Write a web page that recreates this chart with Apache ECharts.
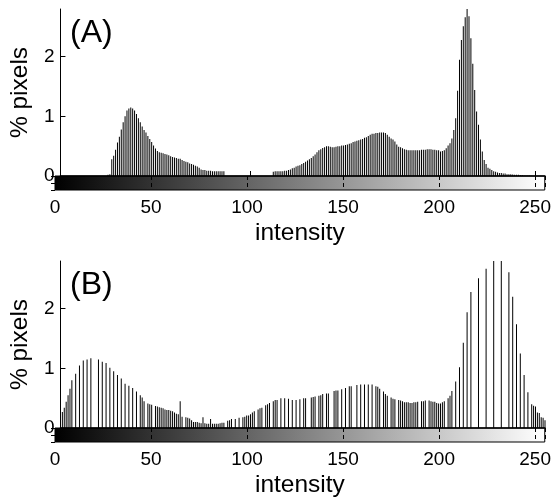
<!DOCTYPE html>
<html><head><meta charset="utf-8">
<script src="https://cdn.jsdelivr.net/npm/echarts@6/dist/echarts.min.js"></script>
<style>html,body{margin:0;padding:0;background:#fff}#c{width:554px;height:499px}</style>
</head><body><div id="c"></div>
<script>
// ---- data ----
const intensityA = [
  25,26,27,28,29,30,31,32,33,34,35,36,37,38,39,40,41,42,43,44,45,46,47,48,49,50,
  51,52,53,54,55,56,57,58,59,60,61,62,63,64,65,66,67,68,69,70,71,72,73,74,75,76,
  77,78,79,80,81,82,83,84,85,86,
  112,113,114,115,116,117,118,119,120,121,122,123,124,125,126,127,128,129,130,131,
  132,133,134,135,136,137,138,139,140,141,142,143,144,145,146,147,148,149,150,151,
  152,153,154,155,156,157,158,159,160,161,162,163,164,165,166,167,168,169,170,171,
  172,173,174,175,176,177,178,179,180,181,182,183,184,185,186,187,188,189,190,191,
  192,193,194,195,196,197,198,199,200,201,202,203,204,205,206,207,208,209,210,211,
  212,213,214,215,216,217,218,219,220,221,222,223,224,225,226,227,228,229,230,231,
  232,233,234,235,236,237,238,239,240,241,242,243,244,245,246,247,248
];
const percentA = [
  0.02,0.03,0.28,0.34,0.44,0.56,0.66,0.78,0.90,1.00,1.10,1.13,1.15,1.13,1.10,1.04,0.97,0.90,0.83,0.77,0.73,0.67,0.62,0.57,0.51,0.46,
  0.42,0.40,0.39,0.38,0.37,0.36,0.35,0.33,0.32,0.31,0.30,0.29,0.29,0.27,0.25,0.24,0.23,0.21,0.20,0.19,0.17,0.16,0.14,0.11,0.10,0.10,
  0.09,0.09,0.09,0.08,0.08,0.08,0.08,0.08,0.08,0.08,
  0.07,0.08,0.08,0.08,0.08,0.08,0.09,0.09,0.10,0.11,0.13,0.14,0.16,0.17,0.18,0.20,0.22,0.24,0.26,0.28,
  0.30,0.33,0.36,0.40,0.43,0.45,0.47,0.48,0.50,0.50,0.49,0.48,0.48,0.49,0.50,0.50,0.51,0.51,0.52,0.53,
  0.54,0.55,0.57,0.58,0.59,0.60,0.61,0.62,0.64,0.65,0.67,0.69,0.71,0.71,0.72,0.72,0.73,0.73,0.73,0.72,
  0.69,0.66,0.63,0.61,0.58,0.53,0.49,0.48,0.465,0.45,0.44,0.43,0.43,0.43,0.43,0.43,0.43,0.43,0.44,0.44,
  0.44,0.45,0.45,0.45,0.44,0.44,0.43,0.43,0.41,0.42,0.43,0.465,0.51,0.55,0.63,0.77,0.97,1.43,1.95,2.28,
  2.51,2.66,2.90,2.68,2.31,1.88,1.44,1.08,0.86,0.61,0.41,0.27,0.20,0.14,0.12,0.10,0.08,0.07,0.06,0.05,
  0.05,0.04,0.04,0.03,0.03,0.03,0.025,0.02,0.02,0.02,0.015,0.015,0.01,0.01,0.01,0.01,0.005
];
const intensityB = [
  1,2,3,4,5,6,8,10,12,14,16,20,22,24,26,28,30,32,34,36,38,40,42,43,44,46,47,48,50,51,
  52,53,54,55,56,57,58,59,60,61,62,63,64,66,67,68,69,70,71,72,73,74,75,76,77,78,79,80,
  81,82,83,84,85,86,88,89,90,92,94,96,97,98,99,100,101,102,104,105,106,108,109,110,112,113,
  114,116,118,120,122,124,126,128,129,132,133,134,136,137,138,140,141,144,145,146,148,150,152,153,
  156,158,160,162,164,166,167,168,170,171,172,174,175,176,178,179,180,181,182,183,184,185,186,187,
  188,190,191,192,194,195,196,197,198,199,200,201,202,204,205,206,208,210,212,214,216,220,224,228,
  232,236,238,240,242,244,246,248,249,250,251,252,253,254,255
];
const percentB = [
  0.27,0.34,0.44,0.55,0.66,0.80,0.91,1.05,1.13,1.15,1.17,1.15,1.11,1.09,1.01,0.95,0.89,0.83,0.74,0.71,0.67,0.61,0.55,0.51,0.45,0.41,0.40,0.39,0.37,0.36,
  0.35,0.34,0.33,0.31,0.30,0.30,0.29,0.28,0.26,0.24,0.23,0.45,0.19,0.18,0.17,0.16,0.13,0.10,0.10,0.10,0.09,0.08,0.18,0.08,0.07,0.07,0.15,0.07,
  0.07,0.07,0.07,0.08,0.09,0.09,0.12,0.13,0.15,0.15,0.17,0.18,0.19,0.21,0.21,0.23,0.26,0.28,0.31,0.33,0.34,0.38,0.40,0.42,0.45,0.47,
  0.47,0.50,0.50,0.49,0.47,0.47,0.48,0.50,0.50,0.51,0.52,0.53,0.54,0.55,0.57,0.58,0.58,0.62,0.63,0.63,0.65,0.67,0.70,0.70,
  0.72,0.73,0.73,0.73,0.73,0.70,0.69,0.66,0.61,0.57,0.54,0.51,0.49,0.48,0.47,0.46,0.45,0.43,0.43,0.43,0.42,0.42,0.43,0.43,
  0.44,0.45,0.45,0.46,0.46,0.45,0.44,0.44,0.42,0.41,0.41,0.43,0.45,0.50,0.54,0.62,0.78,1.02,1.43,1.94,2.28,2.51,2.67,2.95,
  2.95,2.61,2.20,1.74,1.25,0.89,0.60,0.40,0.375,0.36,0.26,0.25,0.18,0.17,0.13
];
const xTicks = [0, 50, 100, 150, 200, 250];
const yTicks = [0, 1, 2];
const xRange = [0, 255];
const yRange = [0, 2.8];
const panelLabels = ['(A)', '(B)'];
const xName = 'intensity';
const yName = '% pixels';

// ---- layout ----
const FONT = '"Liberation Sans", Arial, Helvetica, sans-serif';
const panels = [
  { top: 9, height: 167 },
  { top: 261, height: 167 }
];
const CB_H = 14;
const LEFT = 55, WIDTH = 490;

const grids = [], xAxes = [], yAxes = [], series = [], titles = [];
const datasets = [[intensityA, percentA], [intensityB, percentB]];

panels.forEach((p, k) => {
  const gMain = grids.length;
  grids.push({ left: LEFT, top: p.top, width: WIDTH, height: p.height, z: 3 });
  grids.push({ left: LEFT, top: p.top + p.height, width: WIDTH, height: CB_H,
    show: true, borderColor: '#000', borderWidth: 1, backgroundColor: 'transparent', z: 3 });
  // main axes
  xAxes.push({ type: 'value', gridIndex: gMain, min: xRange[0], max: xRange[1], interval: 50,
    axisLine: { show: true, lineStyle: { color: '#000', width: 1.5 } },
    axisTick: { show: true, inside: true, length: 5, customValues: xTicks, lineStyle: { color: '#000' } },
    axisLabel: { show: false }, splitLine: { show: false }, z: 3 });
  yAxes.push({ type: 'value', gridIndex: gMain, min: yRange[0], max: yRange[1], interval: 1,
    axisLine: { show: true, lineStyle: { color: '#000', width: 1 } },
    axisTick: { show: true, inside: true, length: 5, customValues: yTicks, lineStyle: { color: '#000' } },
    axisLabel: { show: true, customValues: yTicks, color: '#000', fontSize: 19, fontFamily: FONT, margin: 6 },
    splitLine: { show: false },
    name: yName, nameLocation: 'middle', nameGap: 18,
    nameTextStyle: { color: '#000', fontSize: 24.5, fontFamily: FONT }, z: 3 });
  // colorbar axes
  xAxes.push({ type: 'value', gridIndex: gMain + 1, min: xRange[0], max: xRange[1], interval: 50,
    axisLine: { show: false }, axisTick: { show: false },
    axisLabel: { show: true, customValues: xTicks, color: '#000', fontSize: 19, fontFamily: FONT, margin: 8 },
    splitLine: { show: true, lineStyle: { color: '#000', width: 1, type: [4, 3] } },
    name: xName, nameLocation: 'middle', nameGap: 31,
    nameTextStyle: { color: '#000', fontSize: 24.5, fontFamily: FONT }, z: 4 });
  yAxes.push({ type: 'value', gridIndex: gMain + 1, min: 0, max: 1, interval: 0.5, position: 'right',
    axisLine: { show: false },
    axisTick: { show: true, inside: true, length: 4, lineStyle: { color: '#000' } },
    axisLabel: { show: false }, splitLine: { show: false }, z: 4 });

  const [xs, ys] = datasets[k];
  series.push({ type: 'bar', xAxisIndex: gMain, yAxisIndex: gMain,
    data: xs.map((x, i) => [x, ys[i]]), barWidth: 1, clip: true,
    itemStyle: { color: '#000' }, animation: false, z: 2 });
  series.push({ type: 'custom', xAxisIndex: gMain + 1, yAxisIndex: gMain + 1,
    data: [xRange], animation: false, z: 1,
    renderItem: (params, api) => {
      const p0 = api.coord([api.value(0), 1]);
      const p1 = api.coord([api.value(1), 0]);
      return { type: 'rect', shape: { x: p0[0], y: p0[1], width: p1[0] - p0[0], height: p1[1] - p0[1] },
        style: { fill: new echarts.graphic.LinearGradient(0, 0, 1, 0,
          [{ offset: 0, color: '#000' }, { offset: 1, color: '#fff' }]) } };
    } });
  titles.push({ text: panelLabels[k], left: 70, top: p.top + 8, padding: 0,
    textStyle: { fontSize: 32, fontWeight: 'normal', color: '#000', fontFamily: FONT } });
});

const chart = echarts.init(document.getElementById('c'), null, { renderer: 'canvas' });
chart.setOption({ animation: false, backgroundColor: '#fff', title: titles,
  grid: grids, xAxis: xAxes, yAxis: yAxes, series: series });
</script></body></html>
